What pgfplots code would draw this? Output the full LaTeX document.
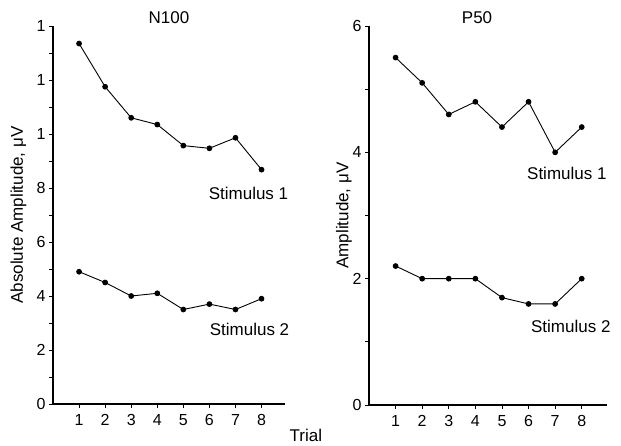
\documentclass[border=0pt]{standalone}
\usepackage{pgfplots}
\pgfplotsset{compat=1.18}
\usepackage{fontspec}
\setmainfont{Liberation Sans}
\begin{document}
\begin{tikzpicture}
\path[use as bounding box] (0pt,0pt) rectangle (621pt,445pt);
\pgfplotsset{
  every axis/.append style={
    scale only axis, anchor=south west, clip=false,
    axis x line=bottom, axis y line=left,
    axis line style={-, line width=1.3pt},
    tick style={black, line width=0.9pt},
    major tick length=4pt, minor tick length=4pt, tick align=outside,
    xmin=0, ymin=0, xtick={1,...,8}, minor y tick num=1,
    font=\fontsize{17}{20}\selectfont,
    tick label style={font=\fontsize{16}{19}\selectfont},
    xticklabel style={yshift=-3pt},
    /pgf/number format/assume math mode=true,
    title style={anchor=center, yshift=2.5pt},
    ylabel style={anchor=center, rotate=0},
    cycle list={{black, mark=*}},
  },
  every axis plot post/.append style={black, line width=0.9pt, mark=*, mark size=2.4pt, mark options={fill=black}},
}
% N100
\begin{axis}[at={(53pt,41pt)}, width=232pt, height=378pt,
  xmax=8.9, ymax=14, ytick={0,2,...,14}, yticklabels={0,2,4,6,8,1,1,1},
  title={N100}, title style={at={(0.5,1)}},
  ylabel={Absolute Amplitude, μV}, ylabel style={at={(axis description cs:-0.149,0.5)}}]
\addplot coordinates {(1,13.35) (2,11.75) (3,10.6) (4,10.35) (5,9.57) (6,9.47) (7,9.86) (8,8.68)};
\addplot coordinates {(1,4.9) (2,4.5) (3,4.0) (4,4.1) (5,3.5) (6,3.7) (7,3.5) (8,3.9)};
\node at (axis cs:7.5,7.8) {Stimulus 1};
\node at (axis cs:7.54,2.75) {Stimulus 2};
\node at (rel axis cs:1.09,-0.082) {Trial};
\end{axis}
% P50
\begin{axis}[at={(369pt,40pt)}, width=238pt, height=379pt,
  xmax=8.95, ymax=6, ytick={0,2,4,6},
  title={P50}, title style={at={(0.454,1)}},
  ylabel={Amplitude, μV}, ylabel style={at={(axis description cs:-0.105,0.5)}}]
\addplot coordinates {(1,5.5) (2,5.1) (3,4.6) (4,4.8) (5,4.4) (6,4.8) (7,4.0) (8,4.4)};
\addplot coordinates {(1,2.2) (2,2.0) (3,2.0) (4,2.0) (5,1.7) (6,1.6) (7,1.6) (8,2.0)};
\node at (axis cs:7.44,3.66) {Stimulus 1};
\node at (axis cs:7.59,1.24) {Stimulus 2};
\end{axis}
\end{tikzpicture}
\end{document}
